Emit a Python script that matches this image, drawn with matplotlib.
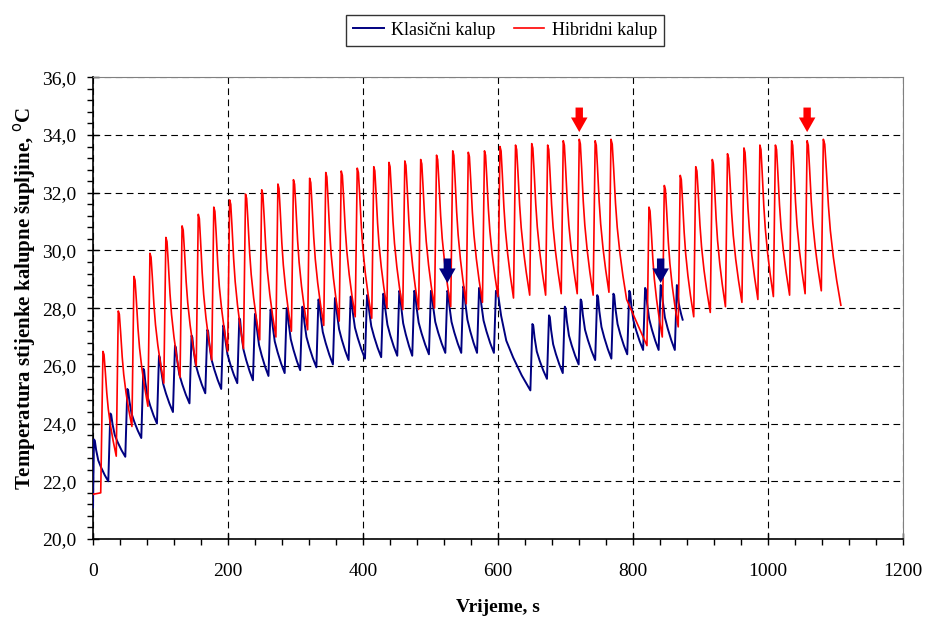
import numpy as np
import matplotlib
matplotlib.use("Agg")
import matplotlib.pyplot as plt
from matplotlib.ticker import MultipleLocator

# --- data ---
# Klasicni kalup (blue): start, peaks, end-of-decay values
blue_start_t = [0.0]
blue_start_T = [21.1]
blue_peak_t = [1.5, 25.7, 50.9, 74.6, 97.8, 121.5, 146, 169.4, 193, 216.8,
               240, 263, 287, 310, 334, 358.5, 381.7, 406, 430, 453.8,
               476, 500.7, 525, 548.6, 572, 597, 651, 675.6, 699, 722.5,
               747, 771, 794.5, 818, 841, 865]
blue_peak_T = [23.45, 24.35, 25.2, 25.9, 26.35, 26.7, 27.05, 27.25, 27.4, 27.65,
               27.8, 27.95, 28.0, 28.05, 28.3, 28.35, 28.4, 28.45, 28.5, 28.6,
               28.6, 28.6, 28.6, 28.75, 28.7, 28.6, 27.45, 27.75, 28.05, 28.3,
               28.45, 28.5, 28.6, 28.7, 28.8, 28.8]
blue_trough_T = [22.0, 22.85, 23.5, 24.0, 24.4, 24.7, 25.05, 25.2, 25.4, 25.5,
                 25.65, 25.75, 25.85, 25.95, 26.05, 26.2, 26.25, 26.3, 26.35, 26.35,
                 26.4, 26.45, 26.45, 26.45, 26.45, 25.15, 25.55, 25.75, 26.05, 26.2,
                 26.25, 26.4, 26.55, 26.55, 26.55, 27.6]
blue_end_t = 873.6
blue_knee_t = []
blue_knee_T = []

# Hibridni kalup (red)
red_start_t = [0.0, 11.5]
red_start_T = [21.55, 21.6]
red_peak_t = [14.8, 37.5, 60.7, 84.4, 108, 132, 156, 179, 202.5, 226,
              250, 274, 297, 321, 344.9, 367.8, 391.5, 416, 438.5, 462,
              485.5, 509, 533, 556, 580, 603, 626, 650, 673.6, 696.7,
              720.4, 744, 767.4, 823.7, 846.4, 870, 893, 917.5, 940, 964.4,
              988, 1011, 1035, 1058, 1082]
red_peak_T = [26.5, 27.9, 29.1, 29.9, 30.45, 30.85, 31.25, 31.5, 31.75, 31.95,
              32.1, 32.3, 32.45, 32.5, 32.7, 32.75, 32.85, 32.9, 33.05, 33.1,
              33.15, 33.3, 33.45, 33.4, 33.45, 33.6, 33.65, 33.7, 33.65, 33.8,
              33.85, 33.8, 33.85, 31.5, 32.25, 32.6, 32.9, 33.15, 33.35, 33.55,
              33.65, 33.65, 33.8, 33.8, 33.85]
red_trough_T = [22.87, 23.9, 24.6, 25.4, 25.6, 26.0, 26.2, 26.5, 26.6, 26.9,
                27.0, 27.2, 27.25, 27.4, 27.55, 27.7, 27.65, 28.0, 27.95, 27.95,
                28.0, 28.05, 28.15, 28.2, 28.4, 28.35, 28.45, 28.45, 28.5, 28.5,
                28.45, 28.55, 26.7, 27.0, 27.35, 27.7, 27.85, 28.05, 28.2, 28.3,
                28.4, 28.45, 28.5, 28.6, 28.1]
red_end_t = 1108.0
red_knee_t = [790.6]
red_knee_T = [28.3]

# decay profile of one cycle (fraction of time -> fraction of amplitude)
red_shape_x = [0.0, 0.08, 0.17, 0.29, 0.4, 0.57, 0.76, 1.0]
red_shape_y = [1.0, 0.97, 0.82, 0.6, 0.45, 0.29, 0.15, 0.0]
blue_shape_x = [0.0, 0.06, 0.15, 0.3, 0.5, 0.75, 1.0]
blue_shape_y = [1.0, 0.97, 0.75, 0.5, 0.33, 0.15, 0.0]
rise = 3.0

# arrow tips
red_arrow_t = [720.4, 1058]
red_arrow_T = [34.1, 34.1]
blue_arrow_t = [525, 841]
blue_arrow_T = [28.87, 28.87]


def build(start_t, start_T, peak_t, peak_T, trough_T, end_t, knee_t, knee_T, sx, sy):
    ts = list(start_t)
    Ts = list(start_T)
    n = len(peak_t)
    for i in range(n):
        p_t, p_T = peak_t[i], peak_T[i]
        stop = peak_t[i + 1] - rise if i + 1 < n else end_t
        ts.append(p_t)
        Ts.append(p_T)
        # a pause between shots -> shape ends at knee, then straight to trough
        k = [j for j in range(len(knee_t)) if p_t < knee_t[j] < stop]
        if k:
            d_end, d_T = knee_t[k[0]], knee_T[k[0]]
        else:
            d_end, d_T = stop, trough_T[i]
        for fx, fy in zip(sx[1:], sy[1:]):
            ts.append(p_t + fx * (d_end - p_t))
            Ts.append(d_T + fy * (p_T - d_T))
        if k:
            ts.append(stop)
            Ts.append(trough_T[i])
    return ts, Ts


blue_t, blue_T = build(blue_start_t, blue_start_T, blue_peak_t, blue_peak_T,
                       blue_trough_T, blue_end_t, blue_knee_t, blue_knee_T,
                       blue_shape_x, blue_shape_y)
red_t, red_T = build(red_start_t, red_start_T, red_peak_t, red_peak_T,
                     red_trough_T, red_end_t, red_knee_t, red_knee_T,
                     red_shape_x, red_shape_y)

plt.rcParams['font.family'] = ['Liberation Serif', 'DejaVu Serif']

fig = plt.figure(figsize=(9.25, 6.18), dpi=100)
ax = fig.add_axes([0.1005, 0.1278, 0.8757, 0.7472])

blue_c = '#000080'
red_c = '#ff0000'
ax.plot(blue_t, blue_T, color=blue_c, lw=1.4, label='Klasični kalup', zorder=3)
ax.plot(red_t, red_T, color=red_c, lw=1.2, label='Hibridni kalup', zorder=4)

astyle = 'simple,head_length=0.75,head_width=0.85,tail_width=0.38'
for x, y in zip(red_arrow_t, red_arrow_T):
    ax.annotate('', xy=(x, y), xytext=(x, y + 0.85),
                arrowprops=dict(arrowstyle=astyle, mutation_scale=14, color=red_c,
                                lw=0, shrinkA=0, shrinkB=0), zorder=5)
for x, y in zip(blue_arrow_t, blue_arrow_T):
    ax.annotate('', xy=(x, y), xytext=(x, y + 0.85),
                arrowprops=dict(arrowstyle=astyle, mutation_scale=14, color=blue_c,
                                lw=0, shrinkA=0, shrinkB=0), zorder=5)

ax.set_xlim(0, 1200)
ax.set_ylim(20, 36)
ax.set_xticks(np.arange(0, 1201, 200))
yt = np.arange(20, 36.1, 2)
ax.set_yticks(yt)
ax.set_yticklabels([f"{v:.1f}".replace('.', ',') for v in yt])
ax.xaxis.set_minor_locator(MultipleLocator(40))
ax.yaxis.set_minor_locator(MultipleLocator(0.4))
ax.tick_params(which='major', direction='inout', length=8, width=1, labelsize=14)
ax.tick_params(which='minor', direction='out', length=4, width=1)
ax.tick_params(axis='x', which='major', pad=13)
ax.tick_params(axis='y', which='major', pad=8)

ax.grid(True, which='major', color='black', linestyle=(0, (6, 4)), linewidth=0.8)
for s in ['top', 'right']:
    ax.spines[s].set_color('#808080')
for s in ['left', 'bottom']:
    ax.spines[s].set_color('black')
    ax.spines[s].set_linewidth(1.2)

ax.set_xlabel('Vrijeme, s', fontsize=14, fontweight='bold', labelpad=14)
ax.set_ylabel('Temperatura stijenke kalupne šupljine, $^{\\rm o}$C', fontsize=15,
              fontweight='bold', labelpad=6)
ax.yaxis.set_label_coords(-0.068, 0.52)

leg = fig.legend(loc='center', bbox_to_anchor=(0.546, 0.951), ncol=2, fontsize=13,
                 frameon=True, fancybox=False, edgecolor='black', handlelength=1.7,
                 columnspacing=1.0, borderpad=0.4, handletextpad=0.4)
leg.get_frame().set_linewidth(1.0)

fig.savefig('out.png', dpi=100)
